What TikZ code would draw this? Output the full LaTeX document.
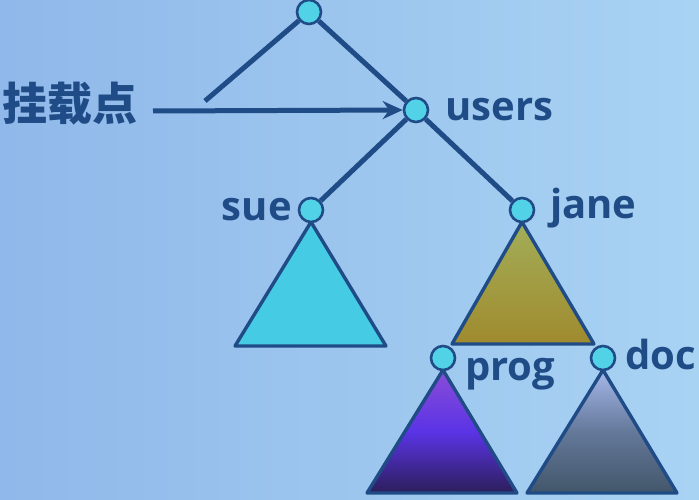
\documentclass[tikz,border=0pt]{standalone}
\usepackage{fontspec}
\setmainfont{Open Sans}
\newfontfamily\cjkfont{Noto Sans CJK SC}
\usetikzlibrary{arrows.meta}
\definecolor{ink}{HTML}{1F4C86}
\definecolor{bgdark}{HTML}{90B8EA}
\definecolor{bglight}{HTML}{A9D3F3}
\definecolor{dotfill}{HTML}{52D2E6}
\definecolor{suefill}{HTML}{45CCE4}
\definecolor{janetop}{HTML}{A2AE58}
\definecolor{janebot}{HTML}{A08A2E}
\definecolor{progtop}{HTML}{8A4CD8}
\definecolor{progmid}{HTML}{5A34E6}
\definecolor{progbot}{HTML}{2C1E5A}
\definecolor{doctop}{HTML}{A6B8EA}
\definecolor{docmid}{HTML}{64789A}
\definecolor{docbot}{HTML}{42566A}
\tikzset{
  dot/.style={circle, draw=ink, line width=2.6pt, fill=dotfill, minimum size=24pt, inner sep=0pt},
  branch/.style={draw=ink, line width=5pt},
  tri/.style={draw=ink, line width=3.4pt, line join=round},
  lbl/.style={text=ink, font=\bfseries\fontsize{40}{44}\selectfont, inner sep=0pt},
}
\begin{document}
\begin{tikzpicture}[x=1pt, y=-1pt]
  % backdrop
  \shade[shading=axis, shading angle=120, left color=bgdark, right color=bglight]
    (0,0) rectangle (699,500);
  \useasboundingbox (0,0) rectangle (699,500);

  % subtrees
  \shade[tri, top color=suefill, bottom color=suefill]
    (311,222) -- (235,346) -- (386,346) -- cycle;
  \shade[tri, top color=janetop, bottom color=janebot]
    (522,222) -- (452,344) -- (594,344) -- cycle;
  \shade[tri, top color=progtop, bottom color=progbot, middle color=progmid]
    (443,370) -- (367,493) -- (517,493) -- cycle;
  \shade[tri, top color=doctop, bottom color=docbot, middle color=docmid]
    (603,370) -- (527,493) -- (677,493) -- cycle;

  % directory nodes
  \node[dot] (root) at (309,12) {};
  \node[dot] (users) at (416,110) {};
  \node[dot] (sue) at (311,210) {};
  \node[dot] (jane) at (522,210) {};
  \node[dot] (prog) at (443,358) {};
  \node[dot] (doc) at (603,358) {};
  \coordinate (stub) at (205,101);
  \coordinate (mstart) at (153,111);

  % branches
  \draw[branch] (root) -- (stub);
  \draw[branch] (root) -- (users);
  \draw[branch] (users) -- (sue);
  \draw[branch] (users) -- (jane);
  \draw[branch, -{Stealth[length=20pt, width=18pt]}] (mstart) -- (users.west);

  % labels
  \node[lbl, anchor=west] (tusers) at (445,110) {users};
  \node[lbl, anchor=east] (tsue) at (292,210) {sue};
  \node[lbl, anchor=west] (tjane) at (550,208) {jane};
  \node[lbl, anchor=west] (tprog) at (465,374) {prog};
  \node[lbl, anchor=west] (tdoc) at (625,354) {doc};
  \node[text=ink, font=\cjkfont\bfseries\fontsize{45}{48}\selectfont, anchor=west, inner sep=0pt] (mount) at (2,104) {挂载点};
\end{tikzpicture}
\end{document}
